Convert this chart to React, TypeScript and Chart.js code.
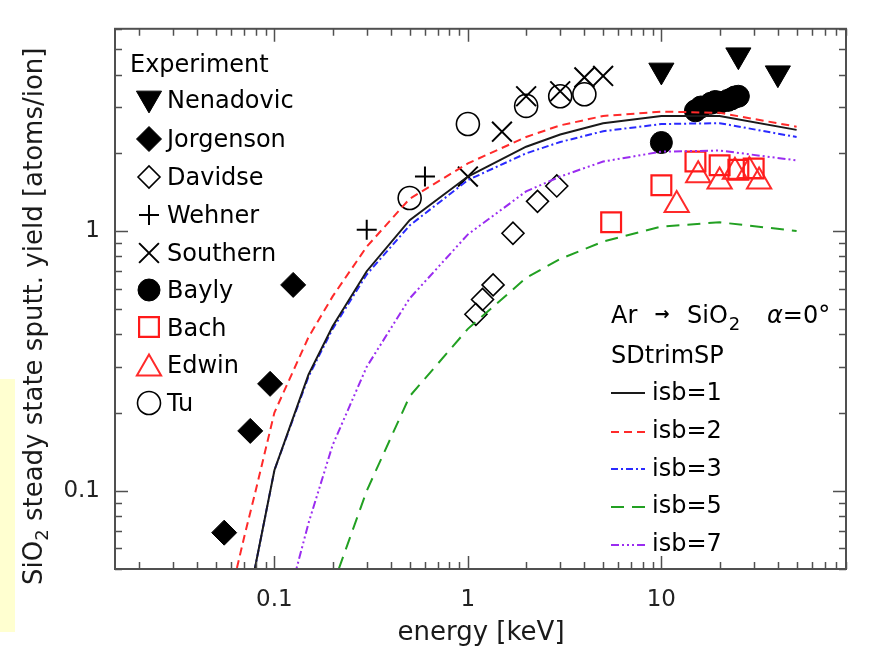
import React, { useEffect, useRef } from 'react';
import { Chart, registerables } from 'chart.js';
import { drawPoint } from 'chart.js/helpers';

Chart.register(...registerables);

const FONT = '"DejaVu Sans", "Noto Sans", sans-serif';

// ---------- axis ranges & tick labels ----------
const xRange = [0.015, 90];
const yRange = [0.05, 6];
const xTickValues = [0.1, 1, 10];
const xTickLabels = ['0.1', '1', '10'];
const yTickValues = [0.1, 1];
const yTickLabels = ['0.1', '1'];

// ---------- SDtrimSP model curves (energy in keV) ----------
const modelEnergy = [0.05, 0.07, 0.08, 0.1, 0.15, 0.2, 0.3, 0.5, 1, 2, 3, 5, 10, 20, 50];
const isb1 = [0.009, 0.032, 0.052, 0.12, 0.28, 0.43, 0.7, 1.1, 1.62, 2.11, 2.35, 2.6, 2.77, 2.77, 2.45];
const isb2 = [0.023, 0.067, 0.1, 0.2, 0.39, 0.56, 0.87, 1.33, 1.82, 2.3, 2.55, 2.77, 2.88, 2.85, 2.52];
const isb3 = [0.009, 0.032, 0.052, 0.12, 0.275, 0.42, 0.68, 1.05, 1.57, 1.99, 2.2, 2.42, 2.58, 2.6, 2.3];
const isb5 = [0.0008, 0.002, 0.003, 0.008, 0.022, 0.043, 0.1, 0.231, 0.42, 0.66, 0.78, 0.91, 1.04, 1.08, 1.0];
const isb7 = [0.003, 0.008, 0.012, 0.024, 0.075, 0.15, 0.3, 0.55, 0.97, 1.42, 1.62, 1.85, 2.02, 2.04, 1.87];

// ---------- experiments ----------
const nenadovicE = [10, 25, 40];
const nenadovicY = [4.15, 4.75, 4.05];
const jorgensonE = [0.055, 0.075, 0.095, 0.125];
const jorgensonY = [0.069, 0.17, 0.258, 0.62];
const davidseE = [1.1, 1.19, 1.35, 1.71, 2.29, 2.88];
const davidseY = [0.478, 0.545, 0.62, 0.98, 1.3, 1.49];
const wehnerE = [0.3, 0.6];
const wehnerY = [1.01, 1.62];
const southernE = [1.0, 1.5, 2.0, 3.0, 4.0, 5.0];
const southernY = [1.62, 2.41, 3.3, 3.45, 3.9, 3.95];
const baylyE = [10, 15, 16, 18, 19, 20, 22, 23, 24, 25];
const baylyY = [2.19, 2.9, 3.0, 3.1, 3.15, 3.12, 3.18, 3.22, 3.28, 3.3];
const bachE = [5.5, 10, 15, 20, 25, 30];
const bachY = [1.08, 1.5, 1.85, 1.79, 1.72, 1.74];
const edwinE = [12, 15.5, 20, 24, 28.5, 32];
const edwinY = [1.26, 1.64, 1.55, 1.69, 1.7, 1.55];
const tuE = [0.5, 1.0, 2.0, 3.0, 4.0];
const tuY = [1.34, 2.58, 3.03, 3.3, 3.36];

const pts = (xs: number[], ys: number[]) => xs.map((x, i) => ({ x, y: ys[i] }));

const markerSeries = [
  { label: 'Nenadovic', e: nenadovicE, y: nenadovicY, style: 'triangle', rot: 180, r: 14.5, fill: '#000', stroke: '#000', bw: 1 },
  { label: 'Jorgenson', e: jorgensonE, y: jorgensonY, style: 'rectRot', rot: 0, r: 12.5, fill: '#000', stroke: '#000', bw: 1 },
  { label: 'Davidse', e: davidseE, y: davidseY, style: 'rectRot', rot: 0, r: 11, fill: 'rgba(0,0,0,0)', stroke: '#000', bw: 1.6 },
  { label: 'Wehner', e: wehnerE, y: wehnerY, style: 'cross', rot: 0, r: 10, fill: 'rgba(0,0,0,0)', stroke: '#000', bw: 2 },
  { label: 'Southern', e: southernE, y: southernY, style: 'crossRot', rot: 0, r: 14, fill: 'rgba(0,0,0,0)', stroke: '#000', bw: 2 },
  { label: 'Bayly', e: baylyE, y: baylyY, style: 'circle', rot: 0, r: 11, fill: '#000', stroke: '#000', bw: 1 },
  { label: 'Bach', e: bachE, y: bachY, style: 'rect', rot: 0, r: 14, fill: 'rgba(0,0,0,0)', stroke: '#ff1a1a', bw: 2.2 },
  { label: 'Edwin', e: edwinE, y: edwinY, style: 'triangle', rot: 0, r: 14, fill: 'rgba(0,0,0,0)', stroke: '#ff2a2a', bw: 2 },
  { label: 'Tu', e: tuE, y: tuY, style: 'circle', rot: 0, r: 11.5, fill: 'rgba(0,0,0,0)', stroke: '#000', bw: 1.6 },
];

const lineSeries = [
  { label: 'isb=1', y: isb1, color: '#1a1a1a', dash: [] as number[], w: 2 },
  { label: 'isb=2', y: isb2, color: '#ff2a2a', dash: [8, 5], w: 2 },
  { label: 'isb=3', y: isb3, color: '#2a2aff', dash: [7, 3, 2, 3], w: 2 },
  { label: 'isb=5', y: isb5, color: '#22a022', dash: [13, 8], w: 2 },
  { label: 'isb=7', y: isb7, color: '#9a2cf0', dash: [8, 3, 2, 3, 2, 3, 2, 3], w: 2 },
];

function logTickList(min: number, max: number) {
  const out: { v: number; major: boolean }[] = [];
  for (let e = -3; e <= 3; e++) {
    for (let m = 1; m < 10; m++) {
      const v = m * Math.pow(10, e);
      if (v >= min * 0.999 && v <= max * 1.001) out.push({ v, major: m === 1 });
    }
  }
  return out;
}

const overlayPlugin = {
  id: 'overlay',
  beforeDraw(chart: any) {
    const ctx = chart.ctx;
    ctx.save();
    ctx.fillStyle = '#ffffff';
    ctx.fillRect(0, 0, chart.width, chart.height);
    ctx.fillStyle = 'rgb(255,255,208)';
    ctx.fillRect(0, 379, 15, 253);
    ctx.restore();
  },
  afterDraw(chart: any) {
    const ctx = chart.ctx;
    const { left, right, top, bottom } = chart.chartArea;
    const xs = chart.scales.x;
    const ys = chart.scales.y;
    ctx.save();
    // frame
    ctx.strokeStyle = '#505050';
    ctx.lineWidth = 2;
    ctx.setLineDash([]);
    ctx.strokeRect(left, top, right - left, bottom - top);
    // ticks
    ctx.lineWidth = 1.5;
    ctx.beginPath();
    for (const t of logTickList(xRange[0], xRange[1])) {
      const px = Math.round(xs.getPixelForValue(t.v)) + 0.5;
      const len = t.major ? 13 : 7;
      ctx.moveTo(px, bottom);
      ctx.lineTo(px, bottom - len);
      ctx.moveTo(px, top);
      ctx.lineTo(px, top + len);
    }
    for (const t of logTickList(yRange[0], yRange[1])) {
      const py = Math.round(ys.getPixelForValue(t.v)) + 0.5;
      const len = t.major ? 13 : 7;
      ctx.moveTo(left, py);
      ctx.lineTo(left + len, py);
      ctx.moveTo(right, py);
      ctx.lineTo(right - len, py);
    }
    ctx.stroke();

    // axis titles
    ctx.fillStyle = '#1a1a1a';
    ctx.textBaseline = 'alphabetic';
    ctx.font = `26px ${FONT}`;
    ctx.textAlign = 'center';
    ctx.fillText('energy [keV]', 481, 640);

    ctx.save();
    ctx.translate(42, 585);
    ctx.rotate(-Math.PI / 2);
    ctx.textAlign = 'left';
    ctx.font = `26px ${FONT}`;
    let cx = 0;
    ctx.fillText('SiO', cx, 0);
    cx += ctx.measureText('SiO').width;
    ctx.font = `18px ${FONT}`;
    ctx.fillText('2', cx, 6);
    cx += ctx.measureText('2').width;
    ctx.font = `26px ${FONT}`;
    ctx.fillText(' steady state sputt. yield [atoms/ion]', cx, 0);
    ctx.restore();

    // left legend
    ctx.textAlign = 'left';
    ctx.font = `24px ${FONT}`;
    ctx.fillStyle = '#000';
    ctx.fillText('Experiment', 130, 72);
    const rowBase = [108, 147, 185, 223, 261, 298, 336, 373, 411];
    const rowMark = [102, 139, 177, 215, 253, 290, 327, 365, 403];
    markerSeries.forEach((m, i) => {
      ctx.fillStyle = '#000';
      ctx.fillText(m.label, 167, rowBase[i]);
      ctx.save();
      ctx.fillStyle = m.fill;
      ctx.strokeStyle = m.stroke;
      ctx.lineWidth = m.bw;
      ctx.setLineDash([]);
      const yOff = m.style === 'triangle' ? (m.rot ? -m.r / 4 : m.r / 4) : 0;
      drawPoint(ctx, { pointStyle: m.style, rotation: m.rot, radius: m.r, borderWidth: m.bw } as any, 149, rowMark[i] + yOff);
      ctx.restore();
    });

    // right legend
    ctx.fillStyle = '#000';
    ctx.font = `24px ${FONT}`;
    ctx.fillText('Ar', 611, 323);
    ctx.font = `bold 18px ${FONT}`;
    ctx.textAlign = 'center';
    ctx.fillText('\u2192', 662, 320);
    ctx.textAlign = 'left';
    ctx.font = `24px ${FONT}`;
    ctx.fillText('SiO', 687, 323);
    const sw = ctx.measureText('SiO').width;
    ctx.font = `18px ${FONT}`;
    ctx.fillText('2', 687 + sw + 1, 330);
    ctx.font = `italic 24px ${FONT}`;
    ctx.fillText('\u03b1', 767, 323);
    const aw = ctx.measureText('\u03b1').width;
    ctx.font = `24px ${FONT}`;
    ctx.fillText('=0\u00b0', 767 + aw, 323);
    ctx.fillText('SDtrimSP', 611, 363);
    const lb = [400, 438, 476, 513, 551];
    const ly = [393, 432, 469, 507, 545];
    lineSeries.forEach((l, i) => {
      ctx.fillStyle = '#000';
      ctx.font = `24px ${FONT}`;
      ctx.fillText(l.label, 652, lb[i]);
      ctx.save();
      ctx.strokeStyle = l.color;
      ctx.lineWidth = l.w;
      ctx.setLineDash(l.dash);
      ctx.beginPath();
      ctx.moveTo(611, ly[i]);
      ctx.lineTo(645, ly[i]);
      ctx.stroke();
      ctx.restore();
    });
    ctx.restore();
  },
};

export default function App() {
  const ref = useRef<HTMLCanvasElement | null>(null);
  useEffect(() => {
    if (!ref.current) return;
    const datasets: any[] = [];
    lineSeries.forEach((l) => {
      datasets.push({
        label: l.label,
        data: pts(modelEnergy, l.y),
        showLine: true,
        borderColor: l.color,
        borderWidth: l.w,
        borderDash: l.dash,
        pointRadius: 0,
        fill: false,
        tension: 0,
      });
    });
    markerSeries.forEach((m) => {
      datasets.push({
        label: m.label,
        data: pts(m.e, m.y),
        showLine: false,
        pointStyle: m.style,
        pointRotation: m.rot,
        pointRadius: m.r,
        pointBackgroundColor: m.fill,
        pointBorderColor: m.stroke,
        pointBorderWidth: m.bw,
        clip: false,
      });
    });
    const tickFont = { family: FONT, size: 23 };
    const chart = new Chart(ref.current, {
      type: 'scatter',
      data: { datasets },
      options: {
        animation: false,
        responsive: false,
        devicePixelRatio: 1,
        layout: { padding: { left: 0, top: 26, right: 45, bottom: 0 } },
        plugins: { legend: { display: false }, tooltip: { enabled: false } },
        scales: {
          x: {
            type: 'logarithmic',
            min: xRange[0],
            max: xRange[1],
            position: 'bottom',
            grid: { display: false, drawTicks: false },
            border: { display: false },
            afterBuildTicks: (s: any) => {
              s.ticks = xTickValues.map((v) => ({ value: v }));
            },
            afterFit: (s: any) => {
              s.height = 83;
            },
            ticks: {
              font: tickFont,
              color: '#222',
              padding: 17,
              maxRotation: 0,
              autoSkip: false,
              callback: (v: any) => {
                const i = xTickValues.indexOf(Number(v));
                return i >= 0 ? xTickLabels[i] : '';
              },
            },
          },
          y: {
            type: 'logarithmic',
            min: yRange[0],
            max: yRange[1],
            position: 'left',
            grid: { display: false, drawTicks: false },
            border: { display: false },
            afterBuildTicks: (s: any) => {
              s.ticks = yTickValues.map((v) => ({ value: v }));
            },
            afterFit: (s: any) => {
              s.width = 115;
            },
            ticks: {
              font: tickFont,
              color: '#222',
              padding: 15,
              autoSkip: false,
              callback: (v: any) => {
                const i = yTickValues.indexOf(Number(v));
                return i >= 0 ? yTickLabels[i] : '';
              },
            },
          },
        },
      } as any,
      plugins: [overlayPlugin],
    });
    return () => chart.destroy();
  }, []);
  return (
    <div style={{ position: 'fixed', left: 0, top: 0, width: 891, height: 652 }}>
      <canvas ref={ref} width={891} height={652} style={{ display: 'block' }} />
    </div>
  );
}
